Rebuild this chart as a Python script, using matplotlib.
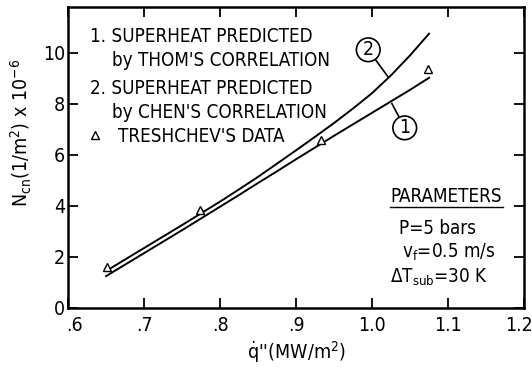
import numpy as np
import matplotlib
matplotlib.use("Agg")
from matplotlib import pyplot as plt
from matplotlib.transforms import ScaledTranslation

# heat flux (MW/m2) and nucleation site density (x 10^6 1/m2)
flux = [0.65, 0.675, 0.70, 0.725, 0.75, 0.775, 0.80, 0.825, 0.85,
        0.875, 0.90, 0.925, 0.95, 0.975, 1.00, 1.025, 1.05, 1.075]
thom = [1.25, 1.70, 2.15, 2.60, 3.05, 3.51, 3.97, 4.43, 4.90,
        5.36, 5.83, 6.29, 6.75, 7.20, 7.65, 8.10, 8.55, 9.02]
chen = [1.45, 1.90, 2.35, 2.80, 3.25, 3.71, 4.17, 4.65, 5.14,
        5.66, 6.18, 6.71, 7.25, 7.82, 8.42, 9.12, 9.90, 10.75]

data_flux = [0.651, 0.774, 0.933, 1.074]
data_n = [1.60, 3.85, 6.60, 9.35]

xticks = [0.6, 0.7, 0.8, 0.9, 1.0, 1.1, 1.2]
xlabels = [".6", ".7", ".8", ".9", "1.0", "1.1", "1.2"]
yticks = [0, 2, 4, 6, 8, 10]

plt.rcParams['font.family'] = ['DejaVu Sans']
plt.rcParams['font.stretch'] = 'condensed'
plt.rcParams['mathtext.fontset'] = 'custom'
plt.rcParams['mathtext.rm'] = 'DejaVu Sans:stretch=condensed'
plt.rcParams['mathtext.it'] = 'DejaVu Sans:stretch=condensed'
FS = 14     # axis text
LFS = 13.5  # legend / parameter text


def main():
  fig = plt.figure(figsize=(5.32, 3.74), dpi=100)
  ax = fig.add_axes([0.128, 0.1765, 0.857, 0.805])

  ax.plot(flux, thom, color="black", lw=1.4)
  ax.plot(flux, chen, color="black", lw=1.4)
  ax.plot(data_flux, data_n, linestyle="none", marker="^", ms=6,
          mfc="white", mec="black", mew=1.0)

  ax.set_xlim(0.6, 1.2)
  ax.set_ylim(0, 11.8)
  ax.set_xticks(xticks)
  ax.set_xticklabels(xlabels)
  ax.set_yticks(yticks)
  ax.tick_params(direction="in", length=7, width=1.3, top=True, right=True,
                 labelsize=FS)
  ax.tick_params(axis="x", pad=6)
  ax.tick_params(axis="y", pad=2)
  for s in ax.spines.values():
    s.set_linewidth(1.8)

  # nudge the end labels so they stay clear of the corner / edge
  tl = ax.get_xticklabels()
  tl[0].set_transform(tl[0].get_transform() + ScaledTranslation(0.06, 0, fig.dpi_scale_trans))
  tl[-1].set_transform(tl[-1].get_transform() + ScaledTranslation(-0.05, 0, fig.dpi_scale_trans))

  ax.set_xlabel("$\\dot{\\rm q}$''(MW/m$^2$)", fontsize=FS, labelpad=3)
  fig.text(0.040, 0.645, "N$_{\\rm cn}$(1/m$^2$) x 10$^{-6}$", rotation=90,
           ha="center", va="center", fontsize=FS)

  # curve labels
  ax.annotate("2", xy=(1.021, 9.06), xytext=(0.995, 10.12),
              ha="center", va="center", fontsize=FS,
              bbox=dict(boxstyle="circle,pad=0.12", fc="white", ec="black", lw=1.2),
              arrowprops=dict(arrowstyle="-", lw=1.2, shrinkA=0, shrinkB=0))
  ax.annotate("1", xy=(1.026, 8.02), xytext=(1.043, 7.06),
              ha="center", va="center", fontsize=FS,
              bbox=dict(boxstyle="circle,pad=0.12", fc="white", ec="black", lw=1.2),
              arrowprops=dict(arrowstyle="-", lw=1.2, shrinkA=0, shrinkB=0))

  # legend written as plain text
  lines = [
    (90, 36, "1. SUPERHEAT PREDICTED"),
    (112, 60, "by THOM'S CORRELATION"),
    (90, 88, "2. SUPERHEAT PREDICTED"),
    (112, 112, "by CHEN'S CORRELATION"),
    (118, 136, "TRESHCHEV'S DATA"),
  ]
  for px, py, txt in lines:
    fig.text(px / 532, 1 - py / 374, txt, ha="left", va="center", fontsize=LFS)
  fig.lines.append(plt.Line2D([95 / 532], [1 - 135 / 374], marker="^", ms=6,
                              mfc="white", mec="black", mew=1.0,
                              linestyle="none", transform=fig.transFigure))

  # operating parameters
  fig.text(390 / 532, 1 - 196 / 374, "PARAMETERS", ha="left", va="center",
           fontsize=LFS)
  fig.lines.append(plt.Line2D([390 / 532, 503 / 532], [1 - 207 / 374] * 2,
                              color="black", lw=1.0, transform=fig.transFigure))
  fig.text(399 / 532, 1 - 228 / 374, "P=5 bars", ha="left", va="center",
           fontsize=LFS)
  fig.text(402 / 532, 1 - 252 / 374, "v$_{\\rm f}$=0.5 m/s", ha="left",
           va="center", fontsize=LFS)
  fig.text(390 / 532, 1 - 277 / 374, "$\\Delta$T$_{\\rm sub}$=30 K", ha="left",
           va="center", fontsize=LFS)

  fig.savefig("out.png", dpi=100)


if __name__ == '__main__':
  main()
